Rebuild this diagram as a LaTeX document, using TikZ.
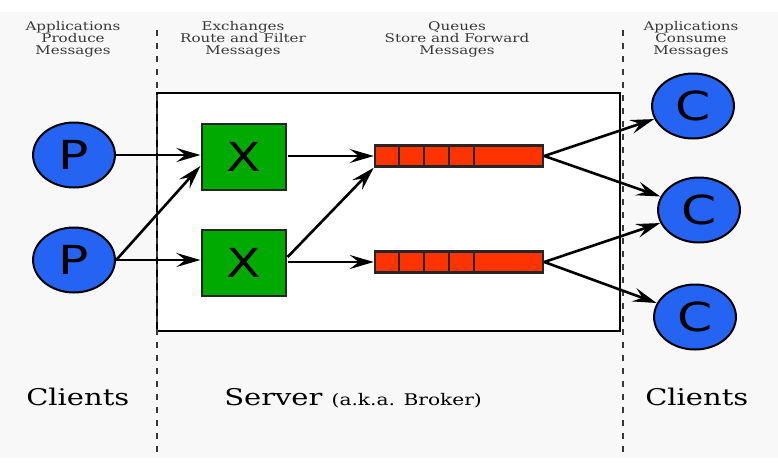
\documentclass[tikz,border=0pt]{standalone}
\usepackage{fontspec}
\setmainfont{DejaVu Serif}
\newfontfamily\lettersans{DejaVu Sans}
\usetikzlibrary{arrows.meta,shapes.geometric}
\definecolor{bggray}{HTML}{F7F8F7}
\definecolor{pblue}{HTML}{2563F2}
\definecolor{xgreen}{HTML}{00AA00}
\definecolor{qred}{HTML}{FF3300}
\definecolor{labgray}{HTML}{383838}
\tikzset{
  wide/.style={xscale=1.26, transform shape},
  actor/.style={wide, ellipse, draw=black, line width=2pt, fill=pblue, minimum width=65pt, minimum height=65pt, inner sep=0pt, font=\lettersans\fontsize{40}{40}\selectfont},
  exch/.style={wide, rectangle, draw=black!85, line width=2.5pt, fill=xgreen, minimum width=66.7pt, minimum height=66pt, inner sep=0pt, font=\lettersans\fontsize{40}{40}\selectfont},
  queue/.style={rectangle, draw=black!85, line width=2.5pt, fill=qred, minimum width=168pt, minimum height=21pt, inner sep=0pt},
  flow/.style={line width=2.6pt, -{Stealth[length=24pt,width=14pt,inset=9pt]}},
  sep/.style={line width=1.6pt, draw=labgray, dash pattern=on 6pt off 7pt},
  toplab/.style={wide, align=center, text=labgray, inner sep=0pt, font=\fontsize{12}{12}\selectfont},
  biglab/.style={wide, anchor=base west, inner sep=0pt, font=\fontsize{23}{24}\selectfont},
}
\begin{document}
\begin{tikzpicture}[x=1pt,y=-1pt]
\useasboundingbox (0,0) rectangle (778,464);
\fill[white] (0,0) rectangle (778,464);
\fill[bggray] (0,12) rectangle (778,458);
% server box
\draw[line width=2.8pt, fill=white] (157,93) rectangle (620,331);
% separators
\draw[sep] (157,30) -- (157,452);
\draw[sep] (623,30) -- (623,452);
% top labels
\node[toplab] (l1) at (73,39) {Applications\\Produce\\Messages};
\node[toplab] (l2) at (243,39) {Exchanges\\Route and Filter\\Messages};
\node[toplab] (l3) at (457,39) {Queues\\Store and Forward\\Messages};
\node[toplab] (l4) at (691,39) {Applications\\Consume\\Messages};
% bottom labels
\node[biglab] (b1) at (26,405) {Clients};
\node[biglab] (b2) at (224,405) {Server \fontsize{16}{16}\selectfont(a.k.a. Broker)};
\node[biglab] (b3) at (645,405) {Clients};
% nodes
\node[actor] (p1) at (74,155) {P};
\node[actor] (p2) at (74,260) {P};
\node[exch] (x1) at (244,157) {X};
\node[exch] (x2) at (244,263) {X};
\node[queue] (q1) at (459,156) {};
\node[queue] (q2) at (459,262) {};
\foreach \q in {q1,q2}{
  \foreach \d in {25,50,75,100}{
    \draw[line width=2.5pt, black!85] ([xshift=\d pt]\q.north west) -- ([xshift=\d pt]\q.south west);
  }
}
\node[actor] (c1) at (693,106) {C};
\node[actor] (c2) at (699,210) {C};
\node[actor] (c3) at (695,317) {C};
% flows
\draw[flow] (p1.east) -- (p1.east -| x1.west);
\draw[flow] (p2.east) -- ([yshift=-9pt]x1.west);
\draw[flow] (p2.east) -- (p2.east -| x2.west);
\draw[flow] (x1.east |- q1.west) -- (q1.west);
\draw[flow] ([yshift=6pt]x2.east) -- (q1.south west);
\draw[flow] (x2.east |- q2.west) -- (q2.west);
\draw[flow] (q1.east) -- (c1);
\draw[flow] (q1.east) -- (c2);
\draw[flow] (q2.east) -- (c2);
\draw[flow] (q2.east) -- (c3);
\end{tikzpicture}
\end{document}
